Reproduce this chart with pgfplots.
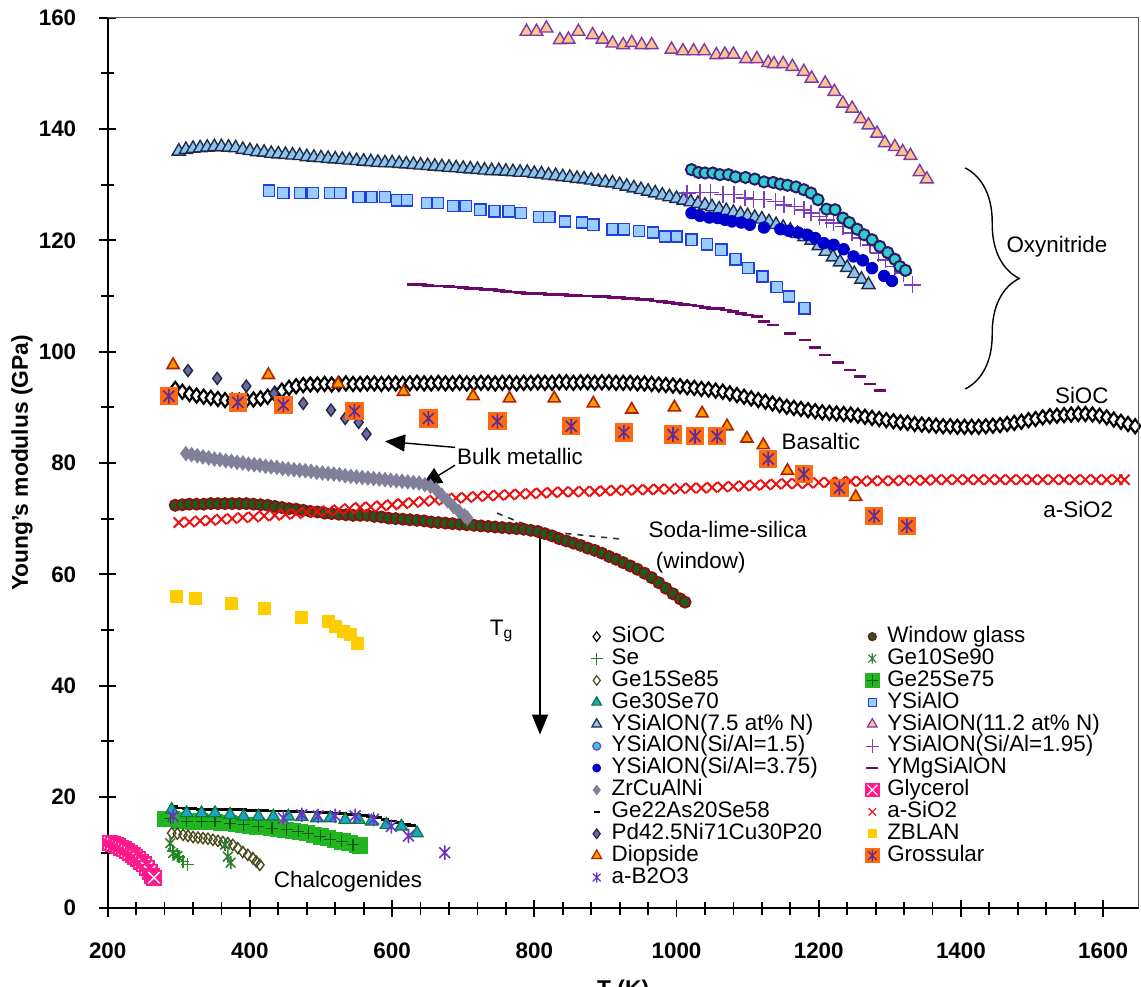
\documentclass[border=0pt]{standalone}
\usepackage{pgfplots}
\pgfplotsset{compat=1.18}
\usepackage{fontspec}
\setmainfont{Liberation Sans}
\usetikzlibrary{arrows.meta,decorations.pathreplacing}
\newcommand\fs{\fontsize{11.2pt}{13.4pt}\selectfont}
\definecolor{diopfill}{HTML}{FF9900}\definecolor{diopdraw}{HTML}{B22200}
\definecolor{grosfill}{HTML}{FF6A10}\definecolor{grosstar}{HTML}{5B2C9A}
\definecolor{zblan}{HTML}{FFCC00}
\definecolor{wgfill}{HTML}{1E5A1E}\definecolor{wgdraw}{HTML}{8B1010}
\definecolor{sio2}{HTML}{E81010}
\definecolor{zrcu}{HTML}{80809A}
\definecolor{pdfill}{HTML}{6A6A9C}\definecolor{pddraw}{HTML}{25254A}
\definecolor{yaofill}{HTML}{99CCFF}\definecolor{yaodraw}{HTML}{1F3FE0}
\definecolor{y75fill}{HTML}{8FC3EE}\definecolor{y75draw}{HTML}{1E2E48}
\definecolor{y112fill}{HTML}{FFC48A}\definecolor{y112draw}{HTML}{7A3AAE}
\definecolor{y15fill}{HTML}{33CCCC}\definecolor{y15draw}{HTML}{2A1A6A}
\definecolor{y375}{HTML}{0000CC}
\definecolor{y195}{HTML}{7B3FBF}
\definecolor{ymg}{HTML}{6B0A6B}
\definecolor{glyc}{HTML}{FF1A8C}
\definecolor{ge25}{HTML}{22B522}\definecolor{ge25p}{HTML}{0D5C0D}
\definecolor{ge30fill}{HTML}{1AA3CC}\definecolor{ge30draw}{HTML}{0E7A2E}
\definecolor{ge15}{HTML}{4A4A1E}
\definecolor{ge10}{HTML}{2E7D32}
\definecolor{se}{HTML}{1E8C1E}
\definecolor{b2o3}{HTML}{6A32C8}
\pgfdeclareplotmark{sqplus}{%
  \pgfpathrectangle{\pgfqpoint{-\pgfplotmarksize}{-\pgfplotmarksize}}{\pgfqpoint{2\pgfplotmarksize}{2\pgfplotmarksize}}%
  \pgfusepathqfill
  \pgfpathmoveto{\pgfqpoint{-0.75\pgfplotmarksize}{0pt}}\pgfpathlineto{\pgfqpoint{0.75\pgfplotmarksize}{0pt}}%
  \pgfpathmoveto{\pgfqpoint{0pt}{-0.75\pgfplotmarksize}}\pgfpathlineto{\pgfqpoint{0pt}{0.75\pgfplotmarksize}}%
  \pgfusepathqstroke}
\pgfdeclareplotmark{sqx}{%
  \pgfpathrectangle{\pgfqpoint{-\pgfplotmarksize}{-\pgfplotmarksize}}{\pgfqpoint{2\pgfplotmarksize}{2\pgfplotmarksize}}%
  \pgfusepathqfill
  \pgfpathmoveto{\pgfqpoint{-0.7\pgfplotmarksize}{-0.7\pgfplotmarksize}}\pgfpathlineto{\pgfqpoint{0.7\pgfplotmarksize}{0.7\pgfplotmarksize}}%
  \pgfpathmoveto{\pgfqpoint{-0.7\pgfplotmarksize}{0.7\pgfplotmarksize}}\pgfpathlineto{\pgfqpoint{0.7\pgfplotmarksize}{-0.7\pgfplotmarksize}}%
  \pgfusepathqstroke}
\pgfdeclareplotmark{sqstar}{%
  \pgfpathrectangle{\pgfqpoint{-\pgfplotmarksize}{-\pgfplotmarksize}}{\pgfqpoint{2\pgfplotmarksize}{2\pgfplotmarksize}}%
  \pgfusepathqfill
  \pgfpathmoveto{\pgfqpoint{-0.6\pgfplotmarksize}{-0.6\pgfplotmarksize}}\pgfpathlineto{\pgfqpoint{0.6\pgfplotmarksize}{0.6\pgfplotmarksize}}%
  \pgfpathmoveto{\pgfqpoint{-0.6\pgfplotmarksize}{0.6\pgfplotmarksize}}\pgfpathlineto{\pgfqpoint{0.6\pgfplotmarksize}{-0.6\pgfplotmarksize}}%
  \pgfpathmoveto{\pgfqpoint{0pt}{-0.8\pgfplotmarksize}}\pgfpathlineto{\pgfqpoint{0pt}{0.8\pgfplotmarksize}}%
  \pgfusepathqstroke}
\pgfdeclareplotmark{exstar}{%
  \pgfpathmoveto{\pgfqpoint{-0.75\pgfplotmarksize}{-0.75\pgfplotmarksize}}\pgfpathlineto{\pgfqpoint{0.75\pgfplotmarksize}{0.75\pgfplotmarksize}}%
  \pgfpathmoveto{\pgfqpoint{-0.75\pgfplotmarksize}{0.75\pgfplotmarksize}}\pgfpathlineto{\pgfqpoint{0.75\pgfplotmarksize}{-0.75\pgfplotmarksize}}%
  \pgfpathmoveto{\pgfqpoint{0pt}{-\pgfplotmarksize}}\pgfpathlineto{\pgfqpoint{0pt}{\pgfplotmarksize}}%
  \pgfusepathqstroke}
\newcommand\lc[1]{\makebox[125.3pt][l]{#1}}
\begin{document}
\begin{tikzpicture}
\begin{axis}[
  scale only axis, width=515.5pt, height=445.3pt,
  xmin=200, xmax=1650, ymin=0, ymax=160,
  xtick={200,400,...,1600}, ytick={0,20,...,160},
  minor x tick num=4, minor y tick num=1,
  axis x line*=bottom, axis y line*=left,
  axis line style={line width=1pt, black},
  tick align=center,
  major tick length=8.5pt, minor tick length=6.5pt,
  every tick/.style={line width=0.9pt, black},
  /pgf/number format/assume math mode=true,
  /pgf/number format/1000 sep={},
  xticklabel style={font=\fs\bfseries, inner sep=0pt, anchor=north, yshift=-12.5pt, text height=8pt, text depth=0pt},
  yticklabel style={font=\fs\bfseries, inner sep=0pt, anchor=east, xshift=-11.3pt},
  xlabel={T (K)}, ylabel={Young's modulus (GPa)},
  xlabel style={font=\fontsize{11.4pt}{13pt}\selectfont\bfseries, at={(axis description cs:0.5,-0.0805)}, anchor=north, inner sep=0pt, text height=8pt},
  ylabel style={font=\fontsize{11.4pt}{13pt}\selectfont\bfseries, at={(axis description cs:-0.0831,0.5)}, anchor=center, inner sep=0pt},
  legend columns=2,
  legend cell align=left,
  legend style={at={(axis description cs:0.4646,0.3173)}, anchor=north west, draw=none, fill=none, font=\fs,
    inner sep=0pt, outer sep=0pt, row sep=0pt, column sep=0pt,
    nodes={inner sep=0pt, text height=8.4pt, text depth=2.55pt},
    /tikz/every odd column/.append style={column sep=2.5pt}},
  legend image code/.code={\path[draw=none, fill=none] (0pt,-1pt) rectangle (10pt,1pt);
    \draw[#1, only marks] plot coordinates {(5pt,0pt)};},
]
% ---------------- Oxynitrides ----------------
% YSiAlO
\addplot[forget plot, only marks, mark=square*, mark size=2.8pt, mark options={fill=yaofill, draw=yaodraw, line width=0.7pt}] coordinates {
(427,128.9)(447,128.5)(471,128.5)(489,128.5)(513,128.5)(527,128.5)(553,127.8)(571,127.8)(590,127.8)(607,127.2)
(621,127.2)(649,126.7)(664,126.7)(686,126.2)(704,126.2)(724,125.5)(744,125.2)(764,125.2)(781,124.9)(807,124.2)
(821,124.2)(843,123.4)(867,123.2)(883,122.8)(910,122.0)(926,122.0)(947,121.7)(967,121.4)(984,120.7)(1000,120.7)
(1021,120.1)(1043,119.3)(1063,118.3)(1083,116.6)(1101,115.0)(1121,113.5)(1141,111.6)(1158,109.9)(1180,107.8)};
% YSiAlON (7.5 at% N)
\addplot[forget plot, only marks, mark=triangle*, mark size=3.8pt, mark options={fill=y75fill, draw=y75draw, line width=0.7pt}] coordinates {
(300,136.0)(310,136.3)(320,136.5)(330,136.6)(340,136.7)(350,136.8)(360,136.8)(370,136.7)(380,136.6)(390,136.3)
(400,136.1)(410,135.9)(420,135.8)(430,135.6)(440,135.5)(450,135.4)(460,135.3)(470,135.2)(480,135.0)(490,134.9)
(500,134.8)(510,134.7)(520,134.6)(530,134.5)(540,134.4)(550,134.3)(560,134.2)(570,134.1)(580,134.0)(590,133.9)
(600,133.9)(610,133.8)(620,133.7)(630,133.6)(640,133.5)(650,133.4)(660,133.3)(670,133.2)(680,133.1)(690,133.0)
(700,132.9)(710,132.8)(720,132.7)(730,132.6)(740,132.5)(750,132.5)(760,132.4)(770,132.3)(780,132.2)(790,132.2)
(800,132.0)(810,131.9)(820,131.7)(830,131.6)(840,131.4)(850,131.3)(860,131.1)(870,131.0)(880,130.8)(890,130.6)
(900,130.4)(910,130.3)(920,130.0)(930,129.7)(940,129.4)(950,129.1)(960,128.8)(970,128.5)(980,128.1)(990,127.8)
(1000,127.5)(1010,127.2)(1020,126.9)(1030,126.6)(1040,126.3)(1050,126.0)(1060,125.6)(1070,125.3)(1080,125.0)(1090,124.7)
(1100,124.4)(1110,124.1)(1120,123.8)(1130,123.3)(1140,122.8)(1150,122.3)(1160,121.8)(1170,121.2)(1180,120.6)(1190,120.0)
(1200,119.0)(1210,118.0)(1220,117.0)(1230,116.1)(1240,115.1)(1250,114.0)(1260,113.0)(1270,112.0)};
% YSiAlON (Si/Al=3.75)
\addplot[forget plot, only marks, mark=*, mark size=2.9pt, mark options={fill=y375, draw=y375}] coordinates {
(1021,124.9)(1033,124.4)(1046,124.1)(1058,124.0)(1068,123.7)(1078,123.4)(1091,123.2)(1103,122.8)(1123,122.3)(1146,122.0)
(1158,121.7)(1171,121.4)(1184,121.0)(1195,120.4)(1207,119.5)(1221,119.2)(1235,118.4)(1249,117.1)(1262,116.4)(1275,115.0)
(1292,113.6)(1303,112.7)};
% YSiAlON (Si/Al=1.95)
\addplot[forget plot, only marks, mark=+, mark size=4.2pt, mark options={draw=y195, line width=0.8pt}] coordinates {
(1015,128.5)(1033,128.6)(1048,128.6)(1065,128.2)(1081,128.2)(1096,127.6)(1108,127.3)(1123,127.3)(1139,127.0)(1151,126.4)
(1166,126.1)(1179,125.5)(1189,124.9)(1201,124.3)(1211,123.7)(1221,123.1)(1234,122.5)(1247,121.3)(1259,120.4)(1272,119.2)
(1284,117.7)(1294,116.5)(1307,115.3)(1319,114.1)(1332,112.0)};
% YSiAlON (Si/Al=1.5)
\addplot[forget plot, only marks, mark=*, mark size=2.8pt, mark options={fill=y15fill, draw=y15draw, line width=1pt}] coordinates {
(1021,132.7)(1031,132.2)(1040,132.1)(1051,132.1)(1061,131.8)(1073,131.8)(1083,131.4)(1097,131.3)(1110,131.0)(1123,130.5)
(1136,130.4)(1146,130.1)(1156,129.9)(1168,129.6)(1179,129.1)(1189,128.5)(1199,127.3)(1211,125.6)(1223,125.5)(1234,124.0)
(1243,123.2)(1254,122.0)(1264,121.0)(1275,120.1)(1286,118.9)(1297,117.8)(1307,116.6)(1314,115.3)(1322,114.6)};
% YSiAlON (11.2 at% N)
\addplot[forget plot, only marks, mark=triangle*, mark size=3.7pt, mark options={fill=y112fill, draw=y112draw, line width=0.7pt}] coordinates {
(789,157.5)(803,157.5)(817,158.1)(836,156.0)(848,156.1)(862,157.5)(882,156.9)(896,156.1)(910,155.4)(925,155.1)
(937,155.5)(951,155.1)(965,155.1)(993,154.3)(1009,154.0)(1024,154.0)(1039,154.0)(1056,153.3)(1068,153.4)(1080,153.4)
(1098,152.6)(1113,152.6)(1129,151.9)(1137,151.7)(1150,151.7)(1163,151.2)(1179,150.3)(1190,149.1)(1209,148.2)(1222,146.7)
(1234,144.6)(1247,143.7)(1259,141.8)(1270,140.7)(1282,139.2)(1293,137.5)(1307,136.8)(1318,135.9)(1329,135.2)(1342,132.3)
(1352,131.0)};
% YMgSiAlON
\addplot[forget plot, only marks, mark=-, mark size=3pt, mark options={draw=ymg, line width=1.4pt}] coordinates {
(629,112.1)(640,112.0)(650,111.9)(660,111.8)(670,111.8)(680,111.7)(690,111.6)(700,111.5)(710,111.4)(720,111.3)
(730,111.2)(740,111.1)(750,111.0)(760,110.8)(770,110.7)(780,110.6)(790,110.5)(800,110.4)(810,110.4)(820,110.3)
(830,110.2)(840,110.2)(850,110.1)(860,110.1)(870,110.0)(880,110.0)(890,109.9)(900,109.9)(910,109.8)(920,109.7)
(930,109.6)(940,109.5)(950,109.4)(960,109.3)(970,109.1)(980,109.0)(990,108.8)(1000,108.7)(1010,108.5)(1020,108.4)
(1030,108.2)(1040,108.0)(1050,107.8)(1060,107.7)(1070,107.5)(1080,107.2)(1090,106.9)(1100,106.6)(1113,106.3)(1123,105.4)
(1136,104.8)(1160,103.3)(1181,102.1)(1195,100.8)(1209,99.4)(1227,98.1)(1244,96.7)(1258,95.5)(1272,94.2)(1286,93.0)};
% ---------------- SiOC ----------------
\addplot[forget plot, only marks, mark=diamond*, mark size=3.5pt, mark options={fill=white, draw=black, line width=1.1pt}] coordinates {
(295,93.3)(305,92.8)(315,92.4)(325,92.1)(335,91.9)(345,91.7)(355,91.5)(365,91.3)(375,91.2)(385,91.2)
(395,91.3)(405,91.4)(415,91.6)(425,91.9)(435,92.4)(445,93.0)(455,93.5)(465,93.8)(475,94.0)(485,94.1)
(495,94.1)(505,94.2)(515,94.1)(525,94.2)(535,94.3)(545,94.2)(555,94.2)(565,94.3)(575,94.3)(585,94.2)
(595,94.3)(605,94.3)(615,94.2)(625,94.3)(635,94.4)(645,94.3)(655,94.3)(665,94.4)(675,94.3)(685,94.3)
(695,94.4)(705,94.3)(715,94.3)(725,94.4)(735,94.4)(745,94.3)(755,94.4)(765,94.4)(775,94.3)(785,94.4)
(795,94.4)(805,94.5)(815,94.4)(825,94.4)(835,94.5)(845,94.5)(855,94.4)(865,94.5)(875,94.5)(885,94.4)
(895,94.5)(905,94.5)(915,94.4)(925,94.4)(935,94.4)(945,94.3)(955,94.3)(965,94.2)(975,94.1)(985,94.0)
(995,93.9)(1005,93.8)(1015,93.6)(1025,93.5)(1035,93.3)(1045,93.2)(1055,93.0)(1065,92.8)(1075,92.5)(1085,92.2)
(1095,91.9)(1105,91.6)(1115,91.3)(1125,91.0)(1135,90.7)(1145,90.4)(1155,90.1)(1165,89.9)(1175,89.7)(1185,89.5)
(1195,89.3)(1205,89.1)(1215,89.0)(1225,88.9)(1235,88.8)(1245,88.7)(1255,88.5)(1265,88.3)(1275,88.1)(1285,87.9)
(1295,87.7)(1305,87.5)(1315,87.3)(1325,87.2)(1335,87.0)(1345,86.9)(1355,86.8)(1365,86.7)(1375,86.6)(1385,86.6)
(1395,86.5)(1405,86.5)(1415,86.5)(1425,86.5)(1435,86.6)(1445,86.7)(1455,86.8)(1465,87.0)(1475,87.2)(1485,87.4)
(1495,87.7)(1505,87.9)(1515,88.2)(1525,88.4)(1535,88.5)(1545,88.6)(1555,88.7)(1565,88.8)(1575,88.8)(1585,88.7)
(1595,88.5)(1605,88.2)(1615,87.8)(1625,87.4)(1635,87.0)(1645,86.6)};
% ---------------- Window glass ----------------
\addplot[forget plot, only marks, mark=*, mark size=2.8pt, mark options={fill=wgfill, draw=wgdraw, line width=0.9pt}] coordinates {
(295,72.4)(305,72.5)(315,72.6)(325,72.6)(335,72.6)(345,72.7)(355,72.7)(365,72.7)(375,72.7)(385,72.7)
(395,72.7)(405,72.6)(415,72.5)(425,72.4)(435,72.2)(445,72.0)(455,71.8)(465,71.7)(475,71.5)(485,71.3)
(495,71.2)(505,71.0)(515,70.9)(525,70.8)(535,70.7)(545,70.6)(555,70.6)(565,70.6)(575,70.4)(585,70.3)
(595,70.1)(605,70.0)(615,69.9)(625,69.8)(635,69.7)(645,69.6)(655,69.4)(665,69.3)(675,69.2)(685,69.1)
(695,69.0)(705,68.9)(715,68.8)(725,68.7)(735,68.6)(745,68.5)(755,68.4)(765,68.3)(775,68.2)(785,68.1)
(795,67.9)(805,67.7)(815,67.3)(825,66.9)(835,66.4)(845,66.0)(855,65.6)(865,65.2)(875,64.7)(885,64.3)
(895,63.8)(905,63.2)(915,62.7)(925,62.1)(935,61.5)(945,60.9)(955,60.2)(965,59.4)(975,58.5)(985,57.5)
(995,56.5)(1005,55.6)(1012,55.0)};
\addplot[forget plot, black, dashed, line width=0.8pt] coordinates {(560,70.4)(700,69.0)(808,67.6)(869,64.9)(916,62.5)(963,59.5)(1000,56.3)};
\addplot[forget plot, black!80, dashed, line width=0.8pt] coordinates {(747.5,71.0)(809.4,67.8)(923.4,66.3)};
% ---------------- a-SiO2 ----------------
\addplot[forget plot, only marks, mark=x, mark size=3.6pt, mark options={draw=sio2, line width=1pt}] coordinates {
(300,69.3)(315,69.4)(330,69.6)(345,69.7)(360,69.9)(375,70.0)(390,70.2)(405,70.3)(420,70.5)(435,70.6)
(450,70.8)(465,70.9)(480,71.1)(495,71.3)(510,71.4)(525,71.6)(540,71.8)(555,72.0)(570,72.1)(585,72.3)
(600,72.5)(615,72.7)(630,72.9)(645,73.1)(660,73.3)(675,73.5)(690,73.7)(705,73.8)(720,74.0)(735,74.1)
(750,74.2)(765,74.3)(780,74.4)(795,74.5)(810,74.6)(825,74.7)(840,74.8)(855,74.8)(870,74.9)(885,74.9)
(900,75.0)(915,75.1)(930,75.1)(945,75.2)(960,75.2)(975,75.3)(990,75.3)(1005,75.4)(1020,75.5)(1035,75.5)
(1050,75.6)(1065,75.7)(1080,75.8)(1095,75.9)(1110,76.0)(1125,76.1)(1140,76.2)(1155,76.3)(1170,76.3)(1185,76.4)
(1200,76.5)(1215,76.5)(1230,76.6)(1245,76.7)(1260,76.7)(1275,76.8)(1290,76.8)(1305,76.8)(1320,76.9)(1335,76.9)
(1350,76.9)(1365,77.0)(1380,77.0)(1395,77.0)(1410,77.0)(1425,77.0)(1440,77.0)(1455,77.0)(1470,77.0)(1485,77.0)
(1500,77.0)(1515,77.0)(1530,77.0)(1545,77.0)(1560,77.0)(1575,77.0)(1590,77.0)(1605,77.0)(1620,77.0)(1630,77.0)};
% ---------------- ZrCuAlNi ----------------
\addplot[forget plot, only marks, mark=diamond*, mark size=3.6pt, mark options={fill=zrcu, draw=zrcu}] coordinates {
(310,81.7)(318,81.5)(326,81.3)(334,81.1)(342,80.9)(350,80.7)(358,80.6)(366,80.4)(374,80.3)(382,80.1)
(390,80.0)(398,79.8)(406,79.7)(414,79.6)(422,79.4)(430,79.3)(438,79.2)(446,79.0)(454,78.9)(462,78.8)
(470,78.7)(478,78.6)(486,78.5)(494,78.3)(502,78.2)(510,78.1)(518,78.0)(526,77.9)(534,77.7)(542,77.6)
(550,77.5)(558,77.4)(566,77.3)(574,77.2)(582,77.1)(590,77.0)(598,76.9)(606,76.8)(614,76.7)(622,76.6)
(630,76.5)(638,76.4)(646,76.1)(654,75.8)(662,75.2)(670,74.2)(678,73.2)(686,72.2)(694,71.3)(702,70.5)(706,70.1)};
% Pd42.5Ni7Cu30P20
\addplot[forget plot, only marks, mark=diamond*, mark size=3pt, mark options={fill=pdfill, draw=pddraw, line width=0.7pt}] coordinates {
(313,96.6)(354,95.2)(395,93.8)(434,92.5)(475,90.7)(514,89.5)(534,88.0)(553,87.3)(564,85.2)};
% Diopside
\addplot[forget plot, only marks, mark=triangle*, mark size=3.5pt, mark options={fill=diopfill, draw=diopdraw, line width=0.8pt}] coordinates {
(292,97.6)(426,95.8)(524,94.2)(616,92.8)(714,92.0)(765,91.6)(828,91.6)(883,90.7)(937,89.6)(997,90.0)
(1036,88.9)(1071,86.6)(1099,84.4)(1122,83.2)(1156,78.6)(1252,73.9)};
% Grossular
\addplot[forget plot, only marks, mark=sqstar, mark size=4.6pt, mark options={fill=grosfill, draw=grosstar, line width=0.8pt}] coordinates {
(286,92.0)(383,90.9)(447,90.4)(547,89.3)(651,88.0)(748,87.5)(852,86.6)(926,85.5)(995,85.1)(1026,84.8)
(1057,84.8)(1129,80.7)(1179,78.0)(1229,75.5)(1278,70.5)(1324,68.7)};
% ZBLAN
\addplot[forget plot, only marks, mark=square*, mark size=3pt, mark options={fill=zblan, draw=zblan}] coordinates {
(296,56.1)(323,55.7)(374,54.7)(421,53.8)(472,52.3)(510,51.6)(520,50.7)(531,49.8)(541,49.2)(551,47.5)};
% ---------------- Chalcogenides ----------------
% Ge25Se75
\addplot[forget plot, only marks, mark=square*, mark size=3.8pt, mark options={fill=ge25, draw=ge25}] coordinates {
(280,16.0)(290,16.0)(300,15.8)(310,15.7)(320,15.6)(330,15.6)(340,15.5)(350,15.5)(360,15.4)(370,15.3)
(380,15.2)(390,15.0)(400,14.9)(410,14.7)(420,14.6)(430,14.4)(440,14.3)(450,14.1)(460,13.9)(470,13.7)
(480,13.5)(490,13.2)(500,12.9)(510,12.6)(520,12.3)(530,12.0)(540,11.7)(550,11.4)(555,11.3)};
\addplot[forget plot, only marks, mark=+, mark size=3pt, mark options={draw=ge25p, line width=0.6pt}] coordinates {
(288,16.2)(311,15.6)(332,15.6)(351,15.6)(372,15.3)(391,15.0)(412,14.7)(431,14.4)(452,14.1)(468,13.8)
(482,13.5)(499,12.9)(513,12.4)(529,12.0)(545,11.4)};
% Ge22As20Se58
\addplot[forget plot, only marks, mark=-, mark size=2.2pt, mark options={draw=black, line width=1.3pt}] coordinates {
(292,18.3)(300,18.0)(310,17.9)(320,17.9)(330,17.8)(340,17.8)(350,17.8)(360,17.8)(370,17.7)(380,17.7)
(390,17.7)(400,17.6)(410,17.6)(420,17.6)(430,17.5)(440,17.5)(450,17.5)(460,17.4)(470,17.4)(480,17.3)
(490,17.3)(500,17.2)(510,17.2)(520,17.1)(530,17.0)(540,16.9)(550,16.8)(560,16.7)(570,16.5)(580,16.3)
(590,16.0)(600,15.7)(610,15.4)(620,15.1)(627,14.9)};
% Ge30Se70
\addplot[forget plot, only marks, mark=triangle*, mark size=3.6pt, mark options={fill=ge30fill, draw=ge30draw, line width=0.6pt}] coordinates {
(290,17.7)(311,17.1)(332,17.1)(351,17.1)(372,16.8)(391,16.5)(412,16.5)(433,16.5)(454,16.5)(473,16.4)
(494,16.2)(513,16.2)(534,15.9)(553,15.9)(571,15.6)(592,15.0)(613,14.7)(635,13.5)};
% a-B2O3
\addplot[forget plot, only marks, mark=exstar, mark size=3.6pt, mark options={draw=b2o3, line width=0.8pt}] coordinates {
(292,16.5)(447,16.2)(473,16.8)(496,16.6)(520,16.6)(548,16.6)(574,16.0)(599,14.7)(623,13.0)(674,10.0)};
% Ge15Se85
\addplot[forget plot, only marks, mark=diamond, mark size=2.8pt, mark options={draw=ge15, line width=0.7pt}] coordinates {
(290,13.5)(298,13.4)(306,13.2)(313,13.0)(320,12.8)(327,12.7)(334,12.6)(341,12.5)(348,12.3)(355,12.1)
(362,11.9)(369,11.7)(376,11.4)(383,10.8)(390,10.1)(397,9.6)(404,9.0)(409,8.4)(414,7.8)};
% Ge10Se90
\addplot[forget plot, only marks, mark=exstar, mark size=3.2pt, mark options={draw=ge10, line width=0.8pt}] coordinates {
(288,11.7)(292,9.9)(298,9.4)(365,11.4)(369,9.3)(373,8.2)};
% Se
\addplot[forget plot, only marks, mark=+, mark size=3.2pt, mark options={draw=se, line width=0.8pt}] coordinates {
(292,10.3)(300,9.2)(306,8.4)(312,7.9)};
% Glycerol
\addplot[forget plot, only marks, mark=sqx, mark size=4pt, mark options={fill=glyc, draw=white, line width=0.7pt}] coordinates {
(203,11.8)(207,11.6)(211,11.4)(215,11.2)(219,10.9)(223,10.6)(227,10.3)(231,10.0)(235,9.6)(239,9.3)
(243,8.9)(247,8.4)(251,7.9)(255,7.3)(259,6.6)(263,5.8)(265,5.5)};
% ---------------- annotations ----------------
\draw[line width=0.8pt, -{Triangle[length=10pt,width=8pt]}] (axis cs:808,67.8) -- (axis cs:808,31.2);
\node[font=\fs, anchor=west, inner sep=0pt] at (axis cs:737,49.8) {T\textsubscript{g}};
\draw[line width=0.7pt, -{Triangle[length=10pt,width=8.5pt]}] (axis cs:688.5,82.8) -- (axis cs:590,83.9);
\draw[line width=0.7pt, -{Triangle[length=10pt,width=8.5pt]}] (axis cs:688.5,79.6) -- (axis cs:641.6,75.9);
\node[font=\fs, anchor=west, inner sep=0pt] at (axis cs:691,81.2) {Bulk metallic};
\node[font=\fs] at (axis cs:1203,83.8) {Basaltic};
\node[font=\fs] at (axis cs:1072,68.0) {Soda-lime-silica};
\node[font=\fs] at (axis cs:1034,62.1) {(window)};
\node[font=\fs] at (axis cs:1570,92.2) {SiOC};
\node[font=\fs] at (axis cs:1565,71.6) {a-SiO2};
\node[font=\fs] at (axis cs:1535,118.9) {Oxynitride};
\node[font=\fs] at (axis cs:538,4.8) {Chalcogenides};
\draw[line width=0.7pt, decorate, decoration={brace, amplitude=27pt}] (axis cs:1406,133.0) -- (axis cs:1406,93.3);
% ---------------- legend ----------------
\addlegendimage{only marks, mark=diamond*, mark size=2.4pt, mark options={fill=white, draw=black, line width=0.6pt}}
\addlegendentry{\lc{SiOC}}
\addlegendimage{only marks, mark=*, mark size=2pt, mark options={fill=wgfill, draw=wgdraw, line width=0.6pt}}
\addlegendentry{Window glass}
\addlegendimage{only marks, mark=+, mark size=3pt, mark options={draw=se, line width=0.6pt}}
\addlegendentry{\lc{Se}}
\addlegendimage{only marks, mark=exstar, mark size=2.6pt, mark options={draw=ge10, line width=0.6pt}}
\addlegendentry{Ge10Se90}
\addlegendimage{only marks, mark=diamond, mark size=2.4pt, mark options={draw=ge15, line width=0.6pt}}
\addlegendentry{\lc{Ge15Se85}}
\addlegendimage{only marks, mark=sqplus, mark size=3.6pt, mark options={fill=ge25, draw=ge25p, line width=0.6pt}}
\addlegendentry{Ge25Se75}
\addlegendimage{only marks, mark=triangle*, mark size=2.8pt, mark options={fill=ge30fill, draw=ge30draw, line width=0.6pt}}
\addlegendentry{\lc{Ge30Se70}}
\addlegendimage{only marks, mark=square*, mark size=2pt, mark options={fill=yaofill, draw=yaodraw, line width=0.6pt}}
\addlegendentry{YSiAlO}
\addlegendimage{only marks, mark=triangle*, mark size=2.8pt, mark options={fill=y75fill, draw=y75draw, line width=0.6pt}}
\addlegendentry{\lc{YSiAlON(7.5 at\% N)}}
\addlegendimage{only marks, mark=triangle*, mark size=2.8pt, mark options={fill=y112fill, draw=y112draw, line width=0.6pt}}
\addlegendentry{YSiAlON(11.2 at\% N)}
\addlegendimage{only marks, mark=*, mark size=2pt, mark options={fill=y15fill, draw=y195, line width=0.6pt}}
\addlegendentry{\lc{YSiAlON(Si/Al=1.5)}}
\addlegendimage{only marks, mark=+, mark size=3.4pt, mark options={draw=y195, line width=0.6pt}}
\addlegendentry{YSiAlON(Si/Al=1.95)}
\addlegendimage{only marks, mark=*, mark size=2pt, mark options={fill=y375, draw=y375}}
\addlegendentry{\lc{YSiAlON(Si/Al=3.75)}}
\addlegendimage{only marks, mark=-, mark size=3pt, mark options={draw=ymg, line width=1.4pt}}
\addlegendentry{YMgSiAlON}
\addlegendimage{only marks, mark=diamond*, mark size=2.4pt, mark options={fill=zrcu, draw=zrcu}}
\addlegendentry{\lc{ZrCuAlNi}}
\addlegendimage{only marks, mark=sqx, mark size=3.6pt, mark options={fill=glyc, draw=white, line width=0.6pt}}
\addlegendentry{Glycerol}
\addlegendimage{only marks, mark=-, mark size=1.6pt, mark options={draw=black, line width=1.3pt}}
\addlegendentry{\lc{Ge22As20Se58}}
\addlegendimage{only marks, mark=x, mark size=2.6pt, mark options={draw=sio2, line width=0.6pt}}
\addlegendentry{a-SiO2}
\addlegendimage{only marks, mark=diamond*, mark size=2.4pt, mark options={fill=pdfill, draw=pddraw, line width=0.6pt}}
\addlegendentry{\lc{Pd42.5Ni71Cu30P20}}
\addlegendimage{only marks, mark=square*, mark size=2pt, mark options={fill=zblan, draw=zblan}}
\addlegendentry{ZBLAN}
\addlegendimage{only marks, mark=triangle*, mark size=2.8pt, mark options={fill=diopfill, draw=diopdraw, line width=0.6pt}}
\addlegendentry{\lc{Diopside}}
\addlegendimage{only marks, mark=sqstar, mark size=3.6pt, mark options={fill=grosfill, draw=grosstar, line width=0.6pt}}
\addlegendentry{Grossular}
\addlegendimage{only marks, mark=exstar, mark size=2.6pt, mark options={draw=b2o3, line width=0.6pt}}
\addlegendentry{\lc{a-B2O3}}
\end{axis}
\draw[black!65, line width=0.7pt] (current axis.north west) -- (current axis.north east) -- (current axis.south east);
\pgfresetboundingbox
\path ([shift={(-53.85pt,-39.35pt)}]current axis.south west) rectangle ([shift={(1.15pt,8.85pt)}]current axis.north east);
\end{tikzpicture}
\end{document}
